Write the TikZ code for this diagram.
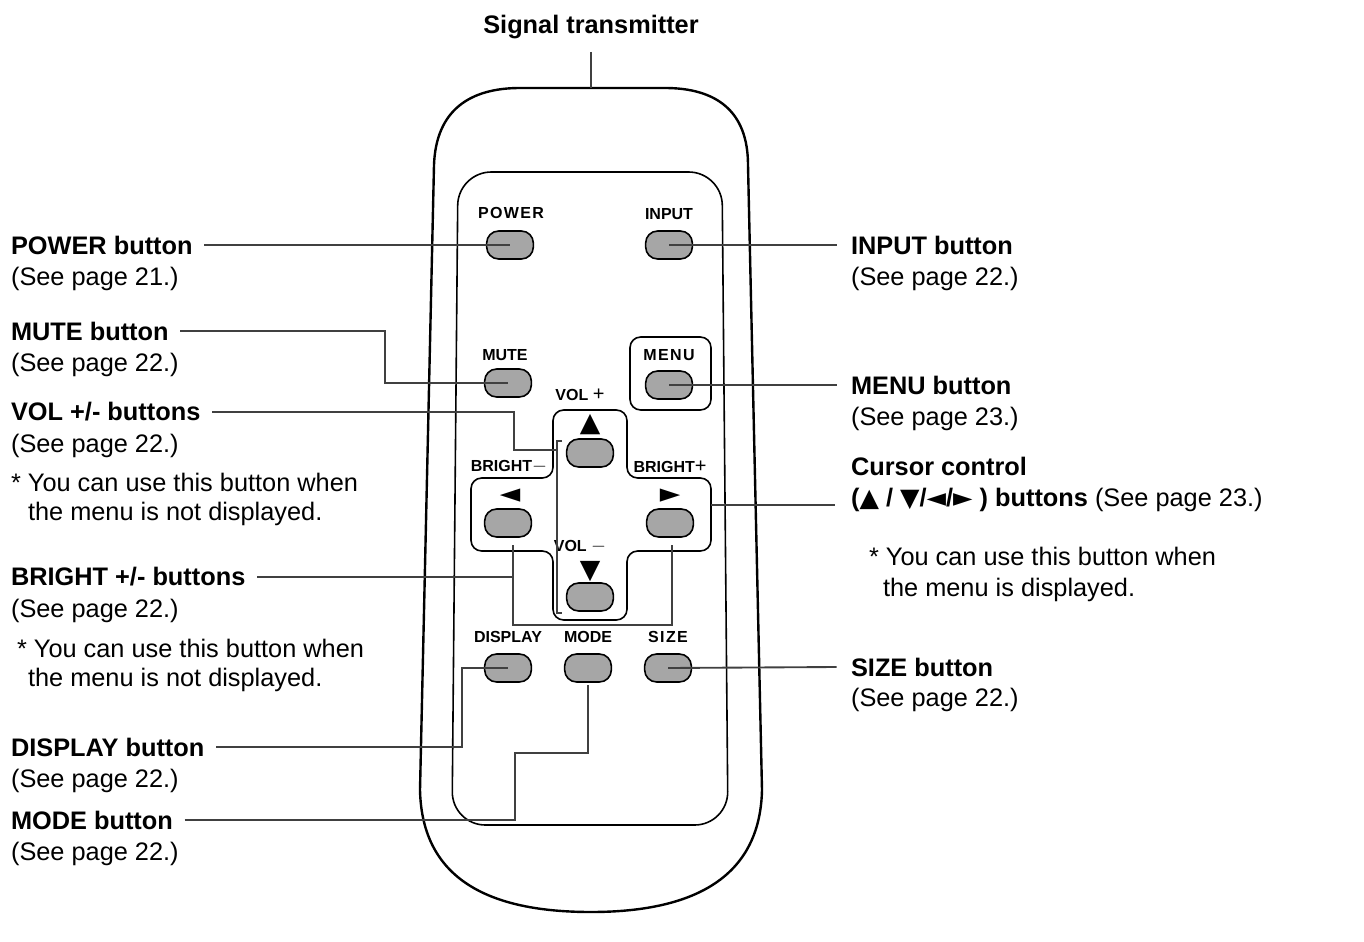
\documentclass[tikz,border=0pt]{standalone}
\usepackage{fontspec}
\setmainfont{Liberation Sans}
\newfontfamily\symf{DejaVu Sans}
\begin{document}
\begin{tikzpicture}[x=0.75pt,y=-0.75pt,line width=1.6pt,
  btn/.style={draw,fill=black!35,rounded corners=9pt,minimum width=35pt,minimum height=21pt,line width=1.2pt,inner sep=0pt},
  blab/.style={font=\fontsize{12}{13}\selectfont\bfseries,inner sep=0pt},
  lab/.style={anchor=west,font=\fontsize{19}{22}\selectfont,inner sep=0pt},
  blab2/.style={lab,font=\fontsize{19}{22}\selectfont\bfseries},
  tri/.style={font=\symf\fontsize{20}{20}\selectfont,inner sep=0pt},
  lead/.style={draw,line width=1.4pt,black!75}]
\useasboundingbox (0,0) rectangle (1364,942);
% remote body
\draw[line width=1.8pt] (420,790) -- (434,165) .. controls (436,110) and (470,88) .. (520,88) -- (665,88) .. controls (715,88) and (748,110) .. (748,165) -- (762,790) .. controls (760,880) and (690,912) .. (591,912) .. controls (490,912) and (422,880) .. (420,790) -- cycle;
\draw[line width=1.2pt,rounded corners=25pt] (458,172) -- (722,172) -- (728,825) -- (452,825) -- cycle;
% frames
\draw[line width=1.2pt,rounded corners=8pt] (630,337) rectangle (711,410);
\draw[line width=1.2pt,rounded corners=8pt] (553,410) -- (627,410) -- (627,478) -- (711,478) -- (711,551) -- (627,551) -- (627,620) -- (553,620) -- (553,551) -- (471,551) -- (471,478) -- (553,478) -- cycle;
% buttons
\node[btn] (bpow) at (510,245) {};
\node[btn] (binp) at (669,245) {};
\node[btn] (bmute) at (508,383) {};
\node[btn] (bmenu) at (669,385) {};
\node[btn] (bup) at (590,453) {};
\node[btn] (bleft) at (508,523) {};
\node[btn] (bright) at (670,523) {};
\node[btn] (bdown) at (590,597) {};
\node[btn] (bdisp) at (508,668) {};
\node[btn] (bmode) at (588,668) {};
\node[btn] (bsize) at (668,668) {};
% button labels
\node[blab] (lpow) at (511,213) {P\kern1pt O\kern1pt W\kern1pt E\kern1pt R};
\node[blab] (linp) at (669,214) {INPUT};
\node[blab] (lmute) at (505,355) {MUTE};
\node[blab] (lmenu) at (669,355) {M\kern1pt E\kern1pt N\kern1pt U};
\node[blab] (lvp) at (580,395) {VOL {\mdseries\fontsize{15}{15}\selectfont +}};
\node[blab] (lbm) at (509,467) {BRIGHT{\mdseries\fontsize{15}{15}\selectfont $-$}};
\node[blab] (lbp) at (670,467) {BRIGHT{\mdseries\fontsize{15}{15}\selectfont +}};
\node[blab] (lvm) at (580,547) {VOL {\mdseries\fontsize{15}{15}\selectfont $-$}};
\node[blab] (ldisp) at (508,637) {DISPLAY};
\node[blab] (lmode) at (588,637) {MODE};
\node[blab] (lsize) at (668,637) {S\kern1pt I\kern1pt Z\kern1pt E};
\node[tri] (tu) at (590,425) {▲};
\node[tri] (tl) at (510,496) {◄};
\node[tri] (tr) at (670,496) {►};
\node[tri] (td) at (590,572) {▼};
% bracket
\draw[line width=1.2pt,black!75] (562,441) -- (557,441) -- (557,613) -- (562,613);
% left texts
\node[blab2] (tpow) at (10,245) {POWER button};
\node[lab] at (10,279) {(See page 21.)};
\node[blab2] (tmute) at (10,331) {MUTE button};
\node[lab] at (10,365) {(See page 22.)};
\node[blab2] (tvol) at (10,412) {VOL +/- buttons};
\node[lab] at (10,446) {(See page 22.)};
\node[lab] at (10,482) {* You can use this button when};
\node[lab] at (27,514) {the menu is not displayed.};
\node[blab2] (tbr) at (10,577) {BRIGHT +/- buttons};
\node[lab] at (10,611) {(See page 22.)};
\node[lab] at (16,648) {* You can use this button when};
\node[lab] at (27,680) {the menu is not displayed.};
\node[blab2] (tdisp) at (10,747) {DISPLAY button};
\node[lab] at (10,781) {(See page 22.)};
\node[blab2] (tmode) at (10,820) {MODE button};
\node[lab] at (10,854) {(See page 22.)};
% right texts
\node[blab2] (tinp) at (850,245) {INPUT button};
\node[lab] at (850,279) {(See page 22.)};
\node[blab2] (tmenu) at (850,385) {MENU button};
\node[lab] at (850,419) {(See page 23.)};
\node[blab2] (tcur) at (850,466) {Cursor control};
\node[lab] at (850,500) {\textbf{(}{\symf\fontsize{19}{19}\selectfont ▲}\textbf{ / }{\symf\fontsize{19}{19}\selectfont ▼}\textbf{/}{\symf\fontsize{19}{19}\selectfont ◄}\textbf{/}{\symf\fontsize{19}{19}\selectfont ►}\textbf{ ) buttons} (See page 23.)};
\node[lab] at (868,556) {* You can use this button when};
\node[lab] at (882,590) {the menu is displayed.};
\node[blab2] (tsize) at (850,667) {SIZE button};
\node[lab] at (850,700) {(See page 22.)};
\node[font=\fontsize{19}{22}\selectfont\bfseries,inner sep=0pt] (tsig) at (591,27) {Signal transmitter};
% leaders
\draw[lead] (591,52) -- (591,88);
\draw[lead] ([xshift=8pt]tpow.east) -- (bpow.center);
\draw[lead] ([xshift=8pt]tmute.east) -- (385,331) -- (385,383) -- (bmute.center);
\draw[lead] ([xshift=8pt]tvol.east) -- (514,412) -- (514,450) -- (557,450);
\draw[lead] ([xshift=8pt]tbr.east) -- (513,577);
\draw[lead] (513,545) -- (513,625) -- (672,625) -- (672,545);
\draw[lead] ([xshift=8pt]tdisp.east) -- (462,747) -- (462,668) -- (bdisp.center);
\draw[lead] ([xshift=8pt]tmode.east) -- (515,820) -- (515,753) -- (588,753) -- (588,685);
\draw[lead] (binp.center) -- ([xshift=-10pt]tinp.west);
\draw[lead] (bmenu.center) -- ([xshift=-10pt]tmenu.west);
\draw[lead] (711,505) -- (835,505);
\draw[lead] (bsize.center) -- ([xshift=-10pt]tsize.west);
\end{tikzpicture}
\end{document}
